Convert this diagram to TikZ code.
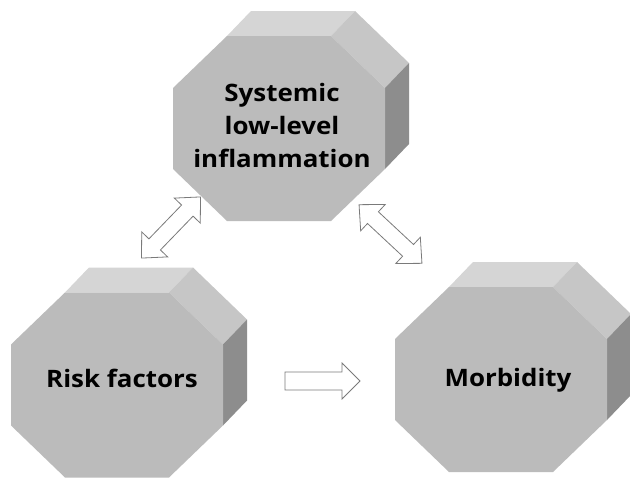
\documentclass[tikz,border=0pt]{standalone}
\usepackage{fontspec}
\setmainfont[FakeStretch=1.08]{Open Sans}
\definecolor{frontgray}{HTML}{BBBBBB}
\definecolor{topgray}{HTML}{D5D5D5}
\definecolor{slantgray}{HTML}{C6C6C6}
\definecolor{sidegray}{HTML}{8D8D8D}
\definecolor{arrowline}{HTML}{7A7A7A}
\tikzset{
  boxtext/.style={font=\fontsize{24}{33}\selectfont\bfseries, align=center, inner sep=0pt, text=black},
  blockarrow/.style={draw=arrowline, fill=white, line width=0.8pt, line join=miter},
}
\newcommand\octprism[2]{%
  \begin{scope}[shift={(#1,#2)}]
    \fill[topgray] (-52,-92.5) -- (52,-92.5) -- (76,-117.5) -- (-28,-117.5) -- cycle;
    \fill[slantgray] (52,-92.5) -- (106,-40.5) -- (130,-65.5) -- (76,-117.5) -- cycle;
    \fill[sidegray] (106,-40.5) -- (106,40.5) -- (130,15.5) -- (130,-65.5) -- cycle;
    \fill[frontgray] (-52,-92.5) -- (52,-92.5) -- (106,-40.5) -- (106,40.5) -- (52,92.5)
      -- (-52,92.5) -- (-106,40.5) -- (-106,-40.5) -- cycle;
  \end{scope}}
\begin{document}
\begin{tikzpicture}[x=1pt,y=-1pt]
  \clip (0,0) rectangle (630,480);
  \fill[white] (0,0) rectangle (630,480);
  % prisms
  \octprism{279}{128.5}
  \octprism{117}{385}
  \octprism{501}{379.5}
  % labels
  \node[boxtext] (sys) at (282,125.5) {Systemic\\low-level\hspace*{0.6em}\\inflammation};
  \node[boxtext, anchor=base] (risk) at (122,387) {Risk factors};
  \node[boxtext, anchor=base] (morb) at (508,386) {Morbidity};
  % arrows
  \coordinate (a1) at (171,227.5);
  \coordinate (a2) at (390.5,234);
  \coordinate (a3) at (322.5,381);
  \begin{scope}[shift={(a1)}, rotate=46]
    \draw[blockarrow] (-42.5,0) -- (-23.5,-18) -- (-23.5,-8) -- (23.5,-8) -- (23.5,-18)
      -- (42.5,0) -- (23.5,18) -- (23.5,8) -- (-23.5,8) -- (-23.5,18) -- cycle;
  \end{scope}
  \begin{scope}[shift={(a2)}, rotate=-43]
    \draw[blockarrow] (-43,0) -- (-24,-18) -- (-24,-8) -- (24,-8) -- (24,-18)
      -- (43,0) -- (24,18) -- (24,8) -- (-24,8) -- (-24,18) -- cycle;
  \end{scope}
  \begin{scope}[shift={(a3)}]
    \draw[blockarrow] (-37.5,-9) -- (19.5,-9) -- (19.5,-18) -- (37.5,0) -- (19.5,18)
      -- (19.5,9) -- (-37.5,9) -- cycle;
  \end{scope}
\end{tikzpicture}
\end{document}
